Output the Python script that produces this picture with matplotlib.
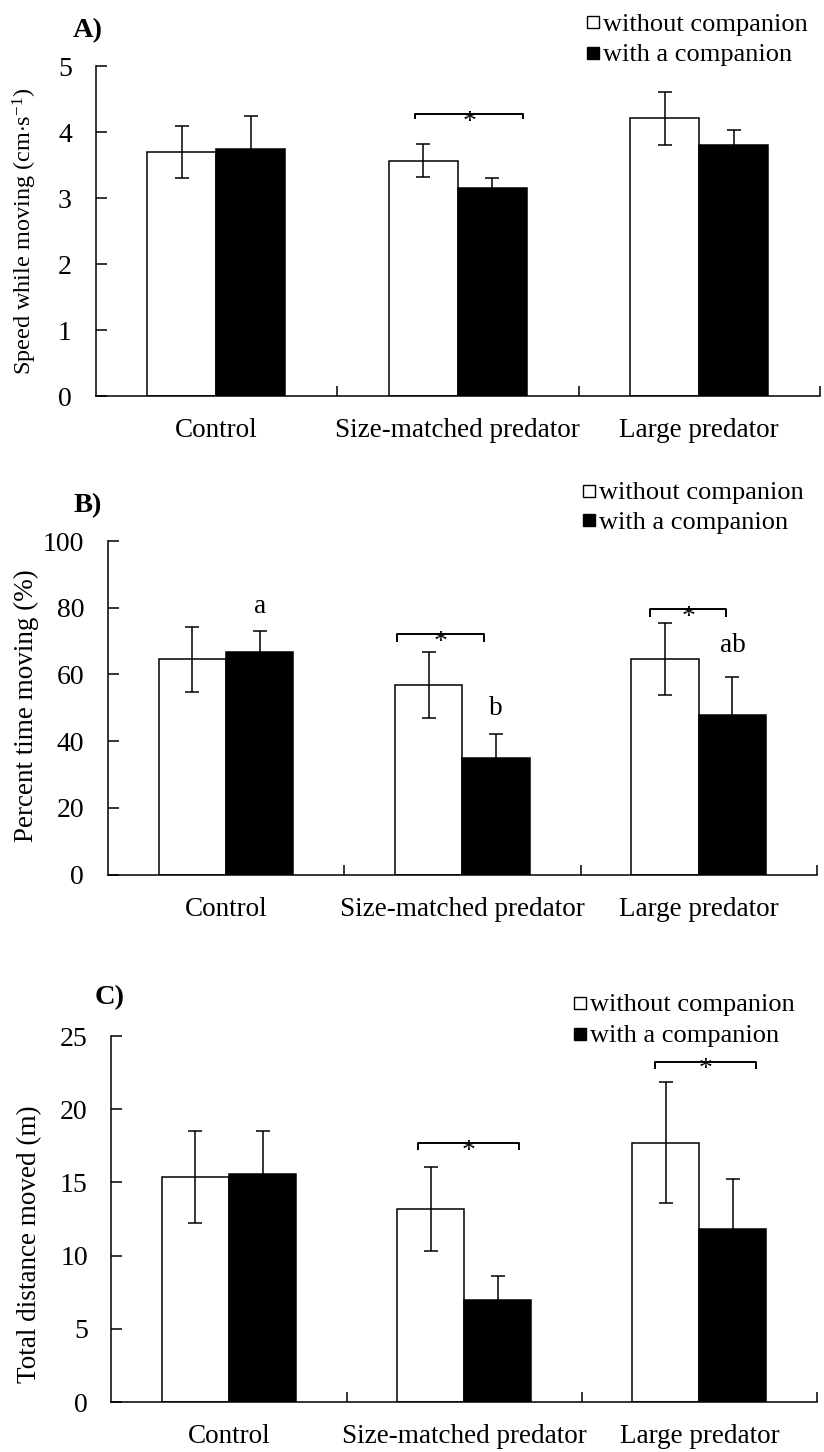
import matplotlib
matplotlib.use("Agg")
import matplotlib.pyplot as plt
from matplotlib.patches import Rectangle
import numpy as np

plt.rcParams['font.family'] = ['Liberation Serif', 'DejaVu Serif']
plt.rcParams['mathtext.fontset'] = 'custom'
plt.rcParams['mathtext.rm'] = 'Liberation Serif'
plt.rcParams['mathtext.it'] = 'Liberation Serif:italic'

# ---------------- data ----------------
categories = ['Control', 'Size-matched predator', 'Large predator']
legend_labels = ['without companion', 'with a companion']

speed_without = [3.70, 3.57, 4.21]
speed_without_err = [0.40, 0.25, 0.40]
speed_with = [3.75, 3.15, 3.80]
speed_with_err = [0.50, 0.15, 0.24]

pct_without = [64.5, 56.8, 64.6]
pct_without_err = [9.8, 10.0, 10.7]
pct_with = [66.8, 34.9, 47.7]
pct_with_err = [6.3, 7.1, 11.4]

dist_without = [15.35, 13.2, 17.7]
dist_without_err = [3.15, 2.87, 4.13]
dist_with = [15.6, 7.0, 11.85]
dist_with_err = [2.9, 1.62, 3.37]

speed_ticks = [0, 1, 2, 3, 4, 5]
pct_ticks = [0, 20, 40, 60, 80, 100]
dist_ticks = [0, 5, 10, 15, 20, 25]

# significance brackets: (category, left offset, right offset, top y, end y)
speed_brackets = [(1, -0.176, 0.272, 4.28, 4.20)]
pct_brackets = [(1, -0.277, 0.090, 72.0, 69.8), (2, -0.207, 0.117, 79.5, 77.3)]
dist_brackets = [(1, -0.198, 0.232, 17.71, 17.2), (2, -0.187, 0.242, 23.25, 22.72)]

# letters: (category, text, y)
pct_letters = [(0, 'a', 80.3), (1, 'b', 49.9), (2, 'ab', 68.8)]

W, H = 824, 1452
fig = plt.figure(figsize=(W / 100, H / 100), dpi=100)


def rect(left, right, top, bottom):
    return [left / W, 1 - bottom / H, (right - left) / W, (bottom - top) / H]


panels = [
    dict(rect=rect(95.5, 820, 66.3, 396), wo=speed_without, woe=speed_without_err,
         wi=speed_with, wie=speed_with_err, ticks=speed_ticks,
         ylabel=r'Speed while moving (cm$\cdot$s$^{\mathregular{-1}}$)', ylsize=17.5,
         ylab_xy=(25, 231), brackets=speed_brackets, letters=[],
         tag='A)', tag_xy=(88, 31), leg=(593, 22, 53)),
    dict(rect=rect(107.7, 817, 541, 874.5), wo=pct_without, woe=pct_without_err,
         wi=pct_with, wie=pct_with_err, ticks=pct_ticks,
         ylabel='Percent time moving (%)', ylsize=19.5,
         ylab_xy=(26, 706), brackets=pct_brackets, letters=pct_letters,
         tag='B)', tag_xy=(88, 506), leg=(589, 491, 520)),
    dict(rect=rect(111.4, 817, 1036, 1402), wo=dist_without, woe=dist_without_err,
         wi=dist_with, wie=dist_with_err, ticks=dist_ticks,
         ylabel='Total distance moved (m)', ylsize=19.5,
         ylab_xy=(30, 1244), brackets=dist_brackets, letters=[],
         tag='C)', tag_xy=(110, 998), leg=(580, 1003, 1033.5)),
]

bw = 0.285
x = np.arange(len(categories))
lw = 1.1

for p in panels:
    ax = fig.add_axes(p['rect'])
    ax.bar(x - bw / 2, p['wo'], bw, color='white', edgecolor='black', linewidth=lw, zorder=2)
    ax.bar(x + bw / 2, p['wi'], bw, color='black', edgecolor='black', linewidth=lw, zorder=2)
    ax.errorbar(x - bw / 2, p['wo'], yerr=p['woe'], fmt='none', ecolor='black',
                elinewidth=lw, capsize=5, capthick=lw, zorder=3)
    ax.errorbar(x + bw / 2, p['wi'], yerr=p['wie'], fmt='none', ecolor='black',
                elinewidth=lw, capsize=5, capthick=lw, zorder=3)
    ax.set_xlim(-0.5, 2.5)
    ax.set_ylim(p['ticks'][0], p['ticks'][-1])
    ax.set_yticks(p['ticks'])
    ax.set_xticks(x)
    ax.set_xticklabels(categories, fontsize=19.5)
    ax.set_xticks([0.5, 1.5, 2.5], minor=True)
    ax.tick_params(axis='x', which='major', length=0, pad=16)
    ax.tick_params(axis='x', which='minor', direction='in', length=7, width=lw)
    ax.tick_params(axis='y', direction='in', length=8, width=lw, pad=17, labelsize=20)
    for s in ['top', 'right']:
        ax.spines[s].set_visible(False)
    for s in ['left', 'bottom']:
        ax.spines[s].set_linewidth(lw)
    ax.patch.set_alpha(0)

    for (c, a, b, ytop, yend) in p['brackets']:
        ax.plot([c + a, c + a, c + b, c + b], [yend, ytop, ytop, yend], color='black',
                lw=lw + 0.3, zorder=4, solid_capstyle='butt')
        ax.annotate('*', xy=(c + (a + b) / 2, ytop), xytext=(0, -6), textcoords='offset points',
                    ha='center', va='center', fontsize=20, zorder=5)
    for (c, t, yv) in p['letters']:
        ax.text(c + bw / 2, yv, t, ha='center', va='center', fontsize=19.5)

    fig.text(p['ylab_xy'][0] / W, 1 - p['ylab_xy'][1] / H, p['ylabel'], rotation=90,
             ha='center', va='center', fontsize=p['ylsize'])
    fig.text(p['tag_xy'][0] / W, 1 - p['tag_xy'][1] / H, p['tag'], ha='center', va='center',
             fontsize=20.5, fontweight='bold')

    sx, y1, y2 = p['leg']
    sq = 12
    for yy, fc, lab in [(y1, 'white', legend_labels[0]), (y2, 'black', legend_labels[1])]:
        fig.patches.append(Rectangle(((sx - sq / 2) / W, 1 - (yy + sq / 2) / H), sq / W, sq / H,
                                     facecolor=fc, edgecolor='black', linewidth=1.0,
                                     transform=fig.transFigure, figure=fig))
        fig.text((sx + sq / 2 + 4) / W, 1 - yy / H, lab, ha='left', va='center_baseline',
                 fontsize=19)

fig.savefig('out.png', dpi=100)
